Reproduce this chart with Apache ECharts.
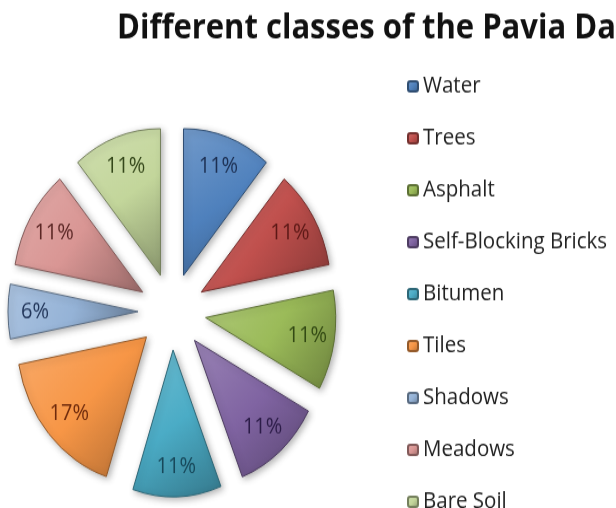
<!DOCTYPE html>
<html>
<head>
<meta charset="utf-8">
<script src="https://cdn.jsdelivr.net/npm/echarts@6/dist/echarts.min.js"></script>
<style>
  html, body { margin: 0; padding: 0; background: #fff; }
  #wrap { width: 616px; height: 508px; overflow: hidden; }
  /* the chart is laid out a bit shorter, then stretched vertically */
  #chart { width: 616px; height: 470px; transform: scaleY(1.1289); transform-origin: 0 0; }
</style>
</head>
<body>
<div id="wrap"><div id="chart"></div></div>
<script>
const titleText = 'Different classes of the Pavia Dataset';
const categories = ['Water', 'Trees', 'Asphalt', 'Self-Blocking Bricks', 'Bitumen', 'Tiles', 'Shadows', 'Meadows', 'Bare Soil'];
const shares = [11, 11, 11, 11, 11, 17, 6, 11, 11];
const baseColors = ['#4F81BD', '#C0504D', '#9BBB59', '#8064A2', '#4BACC6', '#F79646', '#95B3D7', '#D99694', '#C3D69B'];
const labelColors = ['#1c2f52', '#5c1816', '#334a14', '#2c1c48', '#17485a', '#6e2a0c', '#22365a', '#5a2624', '#34471a'];

function shade(hex, f) {
  const n = parseInt(hex.slice(1), 16);
  let r = (n >> 16) & 255, g = (n >> 8) & 255, b = n & 255;
  if (f >= 0) { r += (255 - r) * f; g += (255 - g) * f; b += (255 - b) * f; }
  else { r *= 1 + f; g *= 1 + f; b *= 1 + f; }
  return 'rgb(' + Math.round(r) + ',' + Math.round(g) + ',' + Math.round(b) + ')';
}

const sliceData = categories.map((name, i) => ({
  name,
  value: shares[i],
  selected: true,
  itemStyle: {
    color: {
      type: 'linear', x: 0, y: 0, x2: 1, y2: 1,
      colorStops: [
        { offset: 0, color: shade(baseColors[i], 0.2) },
        { offset: 0.5, color: baseColors[i] },
        { offset: 1, color: shade(baseColors[i], -0.3) }
      ]
    },
    borderColor: shade(baseColors[i], -0.4)
  }
}));

const labelData = categories.map((name, i) => ({
  name,
  value: shares[i],
  selected: true,
  label: { color: labelColors[i] }
}));

const chart = echarts.init(document.getElementById('chart'), null, { renderer: 'canvas' });
chart.setOption({
  animation: false,
  backgroundColor: '#ffffff',
  title: {
    text: titleText,
    left: 112,
    top: 5,
    textStyle: { fontFamily: 'Open Sans', fontWeight: 'bold', fontSize: 31, color: '#111' }
  },
  legend: {
    orient: 'vertical',
    left: 407,
    top: 66,
    padding: 0,
    itemWidth: 10,
    itemHeight: 9,
    itemGap: 25,
    selectedMode: false,
    data: categories,
    textStyle: { fontFamily: 'Open Sans', fontSize: 20.5, color: '#222' }
  },
  series: [
    {
      type: 'pie',
      name: 'classes',
      center: [172, 276],
      radius: 130,
      startAngle: 90,
      clockwise: true,
      selectedMode: 'multiple',
      selectedOffset: 34,
      silent: true,
      label: { show: false },
      labelLine: { show: false },
      itemStyle: {
        borderWidth: 1,
        shadowBlur: 6,
        shadowOffsetX: 2,
        shadowOffsetY: 2,
        shadowColor: 'rgba(0,0,0,0.3)'
      },
      data: sliceData
    },
    {
      // transparent ring that only carries the percentage labels
      type: 'pie',
      name: 'labels',
      center: [172, 276],
      radius: [70, 130],
      startAngle: 90,
      clockwise: true,
      selectedMode: 'multiple',
      selectedOffset: 34,
      silent: true,
      itemStyle: { color: 'rgba(0,0,0,0)' },
      label: {
        show: true,
        position: 'inside',
        formatter: '{c}%',
        fontFamily: 'Open Sans',
        fontSize: 20
      },
      labelLine: { show: false },
      data: labelData
    }
  ]
});
</script>
</body>
</html>
